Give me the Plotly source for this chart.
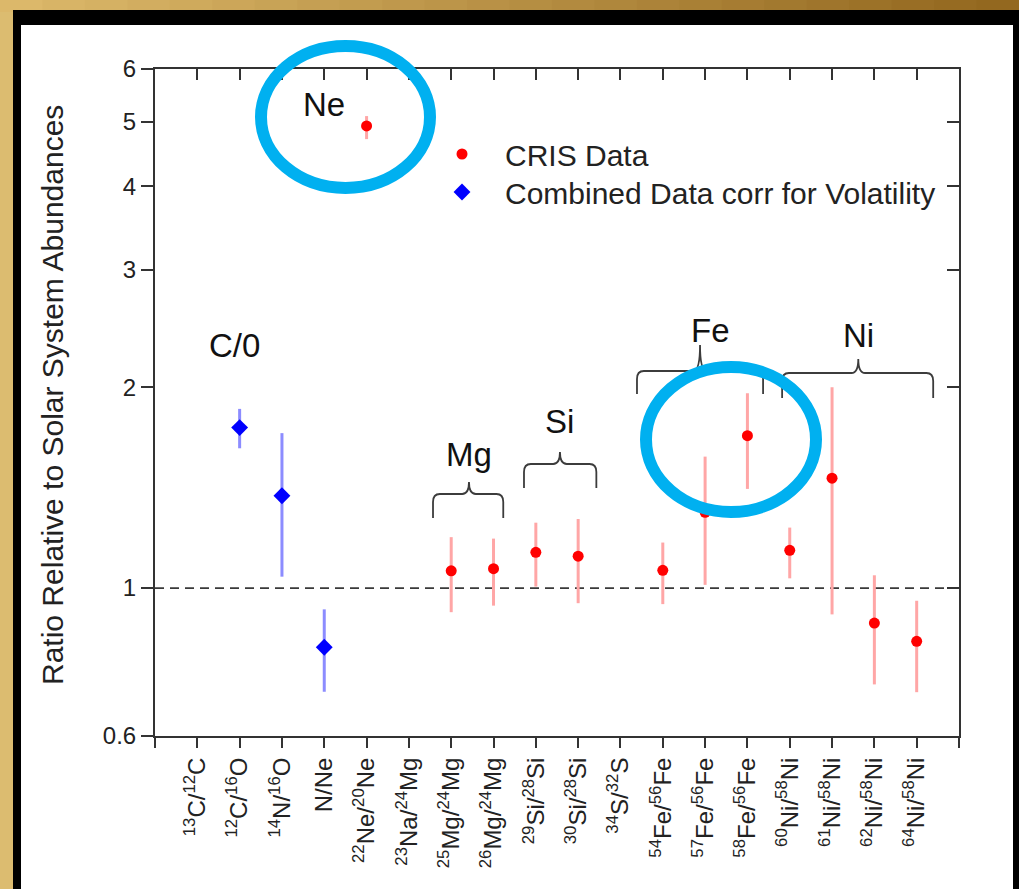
import numpy as np
import plotly.graph_objects as go

# ---------------- data ----------------
categories = [
    "<sup>13</sup>C/<sup>12</sup>C", "<sup>12</sup>C/<sup>16</sup>O", "<sup>14</sup>N/<sup>16</sup>O",
    "N/Ne", "<sup>22</sup>Ne/<sup>20</sup>Ne", "<sup>23</sup>Na/<sup>24</sup>Mg",
    "<sup>25</sup>Mg/<sup>24</sup>Mg", "<sup>26</sup>Mg/<sup>24</sup>Mg", "<sup>29</sup>Si/<sup>28</sup>Si",
    "<sup>30</sup>Si/<sup>28</sup>Si", "<sup>34</sup>S/<sup>32</sup>S", "<sup>54</sup>Fe/<sup>56</sup>Fe",
    "<sup>57</sup>Fe/<sup>56</sup>Fe", "<sup>58</sup>Fe/<sup>56</sup>Fe", "<sup>60</sup>Ni/<sup>58</sup>Ni",
    "<sup>61</sup>Ni/<sup>58</sup>Ni", "<sup>62</sup>Ni/<sup>58</sup>Ni", "<sup>64</sup>Ni/<sup>58</sup>Ni",
]

cris_cats = [4, 6, 7, 8, 9, 11, 12, 13, 14, 15, 16, 17]  # indices into categories
cris_value = [4.93, 1.061, 1.069, 1.131, 1.116, 1.063, 1.299, 1.692, 1.139, 1.461, 0.886, 0.832]
cris_upper = [5.10, 1.192, 1.186, 1.253, 1.269, 1.170, 1.574, 1.959, 1.232, 2.000, 1.045, 0.957]
cris_lower = [4.71, 0.920, 0.941, 1.005, 0.949, 0.946, 1.011, 1.408, 1.034, 0.913, 0.717, 0.698]

comb_cats = [1, 2, 3]
comb_value = [1.740, 1.375, 0.815]
comb_upper = [1.856, 1.707, 0.929]
comb_lower = [1.620, 1.040, 0.699]

y_ticks = [0.6, 1, 2, 3, 4, 5, 6]
y_ticktext = ["0.6", "1", "2", "3", "4", "5", "6"]
reference_ratio = 1.0

# ---------------- layout geometry ----------------
W, H = 1019, 889
L, R, T, B = 155, 60, 69, 153
PW, PH = W - L - R, H - T - B
FONT = "Liberation Sans, Arial, sans-serif"
YR = [np.log10(0.6), np.log10(6)]
XR = [0, len(categories) + 1]


def px_x(p):
    return (p - L) / PW


def px_y(p):
    return (H - B - p) / PH


cris_x = [c + 1 for c in cris_cats]
comb_x = [c + 1 for c in comb_cats]

fig = go.Figure()

# reference line at ratio 1
fig.add_trace(go.Scatter(
    x=XR, y=[reference_ratio, reference_ratio], mode="lines",
    line=dict(color="#3a3a3a", width=1.8, dash="9px,6px"),
    showlegend=False, hoverinfo="skip"))

fig.add_trace(go.Scatter(
    x=cris_x, y=cris_value, mode="markers", name="CRIS Data", legend="legend",
    marker=dict(symbol="circle", size=11, color="#ff0000"),
    error_y=dict(type="data", symmetric=False,
                 array=[u - v for u, v in zip(cris_upper, cris_value)],
                 arrayminus=[v - l for v, l in zip(cris_value, cris_lower)],
                 color="#ffa6a6", thickness=3, width=0)))

fig.add_trace(go.Scatter(
    x=comb_x, y=comb_value, mode="markers", name="Combined Data corr for Volatility",
    legend="legend2",
    marker=dict(symbol="diamond", size=13, color="#0000ff"),
    error_y=dict(type="data", symmetric=False,
                 array=[u - v for u, v in zip(comb_upper, comb_value)],
                 arrayminus=[v - l for v, l in zip(comb_value, comb_lower)],
                 color="#8c8cff", thickness=3, width=0)))

# dummy trace to create the mirrored (inward-tick) axes
fig.add_trace(go.Scatter(x=[None], y=[None], xaxis="x2", yaxis="y2",
                         showlegend=False, hoverinfo="skip"))

shapes = []
# gold frame (top strip gradient)
c0 = np.array([0xdc, 0xb8, 0x6a])
c1 = np.array([0x93, 0x68, 0x1f])
n = 24
for i in range(n):
    c = (c0 + (c1 - c0) * i / (n - 1)).astype(int)
    shapes.append(dict(type="rect", xref="paper", yref="paper", layer="below",
                       x0=px_x(i * W / n), x1=px_x((i + 1) * W / n + 1),
                       y0=px_y(12), y1=px_y(-2),
                       fillcolor="rgb(%d,%d,%d)" % tuple(c), line=dict(width=0)))
shapes.append(dict(type="rect", xref="paper", yref="paper", layer="below",
                   x0=px_x(13), x1=px_x(W + 5), y0=px_y(H + 5), y1=px_y(10),
                   fillcolor="#000000", line=dict(width=0)))
shapes.append(dict(type="rect", xref="paper", yref="paper", layer="below",
                   x0=px_x(21), x1=px_x(1013), y0=px_y(H + 5), y1=px_y(25),
                   fillcolor="#ffffff", line=dict(width=0)))


def brace(xl, xr, xc, y_end, y_h, y_p, rx=0.16, ry=0.012):
    path = (f"M {xl},{y_end} L {xl},{y_h - ry} Q {xl},{y_h} {xl + rx},{y_h} "
            f"L {xc - rx},{y_h} Q {xc},{y_h} {xc},{y_p} Q {xc},{y_h} {xc + rx},{y_h} "
            f"L {xr - rx},{y_h} Q {xr},{y_h} {xr},{y_h - ry} L {xr},{y_end}")
    return dict(type="path", xref="x", yref="paper", path=path,
                line=dict(color="#3c3c3c", width=1.8), layer="above")


groups = [
    # label, left, right, centre (category units), brace end / bar / peak (px), label y (px)
    ("Mg", 6.57, 8.23, 7.42, 518, 494, 482, 455),
    ("Si", 8.72, 10.43, 9.57, 488, 464, 452, 421),
    ("Fe", 11.39, 14.37, 12.88, 394, 371, 345, 330),
    ("Ni", 14.82, 18.39, 16.62, 398, 373, 359, 335),
]
annotations = []
for lab, xl, xr, xc, ye, yh, yp, ly in groups:
    shapes.append(brace(xl, xr, xc, px_y(ye), px_y(yh), px_y(yp)))
    annotations.append(dict(x=xc + (0.25 if lab == "Fe" else 0), y=px_y(ly), xref="x", yref="paper",
                            text=lab, showarrow=False,
                            font=dict(family=FONT, size=33, color="#111111"),
                            xanchor="center", yanchor="middle"))

annotations.append(dict(x=4.0, y=px_y(105), xref="x", yref="paper", text="Ne", showarrow=False,
                        font=dict(family=FONT, size=33, color="#111111"),
                        xanchor="center", yanchor="middle"))
annotations.append(dict(x=1.89, y=px_y(345), xref="x", yref="paper", text="C/0", showarrow=False,
                        font=dict(family=FONT, size=33, color="#111111"),
                        xanchor="center", yanchor="middle"))
annotations.append(dict(x=px_x(52), y=px_y(395), xref="paper", yref="paper",
                        text="Ratio Relative to Solar System Abundances", textangle=-90,
                        showarrow=False, font=dict(family=FONT, size=30, color="#222222"),
                        xanchor="center", yanchor="middle"))

# highlight ellipses
for x0, x1, y0, y1 in [(261, 430, 188, 46), (646, 816, 512, 367)]:
    shapes.append(dict(type="circle", xref="paper", yref="paper", layer="above",
                       x0=px_x(x0), x1=px_x(x1), y0=px_y(y0), y1=px_y(y1),
                       line=dict(color="#00b0f0", width=12)))

axis_common = dict(showline=True, linecolor="#333333", linewidth=2, showgrid=False,
                   zeroline=False, automargin=False, tickcolor="#333333", tickwidth=2)

legend_common = dict(xanchor="left", yanchor="top", bgcolor="rgba(0,0,0,0)", borderwidth=0,
                     itemwidth=76, font=dict(family=FONT, size=30, color="#222222"))

fig.update_layout(
    width=W, height=H,
    margin=dict(l=L, r=R, t=T, b=B, pad=0),
    template="none",
    paper_bgcolor="#dcbc70",
    plot_bgcolor="rgba(0,0,0,0)",
    font=dict(family=FONT, color="#222222"),
    shapes=shapes,
    annotations=annotations,
    xaxis=dict(range=XR, tickmode="array", tickvals=list(range(XR[0], XR[1] + 1)),
               ticktext=[""] + categories + [""], tickangle=-90, ticks="outside", ticklen=10,
               tickfont=dict(family=FONT, size=24, color="#222222"), **axis_common),
    yaxis=dict(type="log", range=YR, tickmode="array", tickvals=y_ticks, ticktext=y_ticktext,
               ticks="outside", ticklen=12, ticklabelstandoff=0,
               tickfont=dict(family=FONT, size=24, color="#222222"), **axis_common),
    xaxis2=dict(overlaying="x", side="top", anchor="y2", range=XR, tickmode="array",
                tickvals=list(range(XR[0], XR[1] + 1)), ticks="inside", ticklen=11,
                showticklabels=False, **axis_common),
    yaxis2=dict(overlaying="y", side="right", anchor="x2", type="log", range=YR, tickmode="array",
                tickvals=y_ticks, ticks="inside", ticklen=12, showticklabels=False, **axis_common),
    legend=dict(x=px_x(419), y=px_y(128), **legend_common),
    legend2=dict(x=px_x(419), y=px_y(166), **legend_common),
    showlegend=True,
)

fig.write_html("out.html", config={"displayModeBar": False},
               post_script="document.body.style.margin='0px';document.body.style.overflow='hidden';")
